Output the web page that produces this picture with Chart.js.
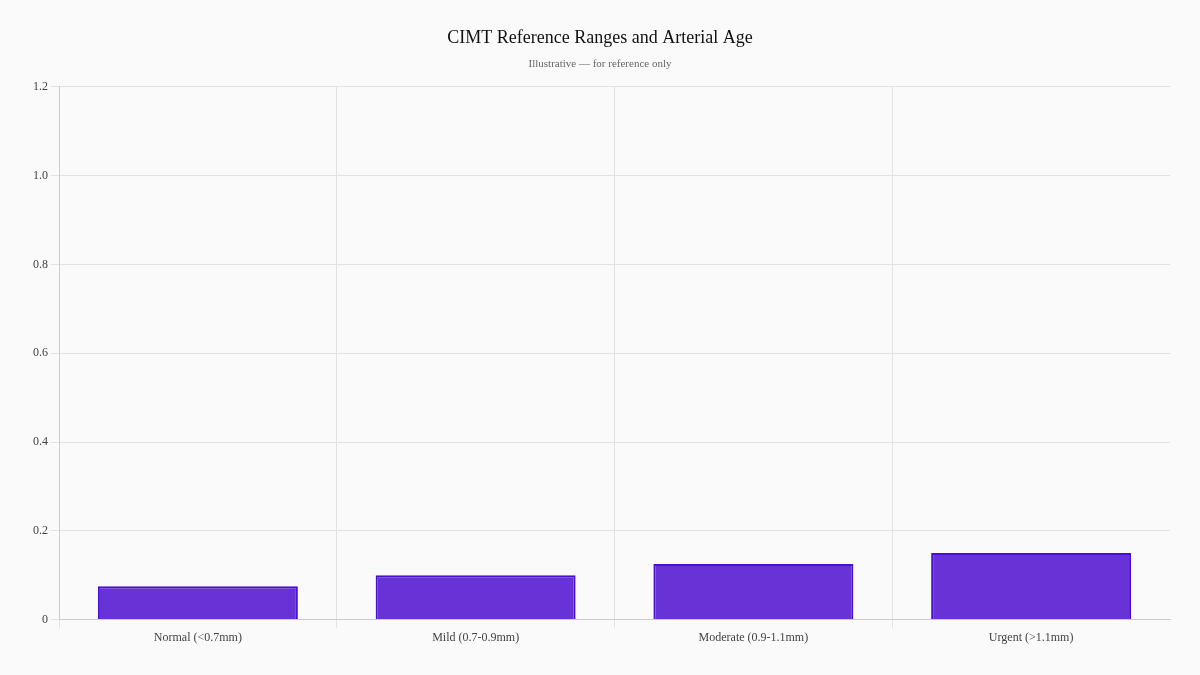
<!DOCTYPE html>
<html>
<head>
<meta charset="utf-8">
<script src="https://cdn.jsdelivr.net/npm/chart.js@4/dist/chart.umd.min.js"></script>
<style>
  html, body { margin: 0; padding: 0; background: #fafafa; }
  #wrap { width: 1200px; height: 675px; }
</style>
</head>
<body>
<div id="wrap"><canvas id="cimtChart"></canvas></div>
<script>
const categories = [
    'Normal (<0.7mm)',
    'Mild (0.7-0.9mm)',
    'Moderate (0.9-1.1mm)',
    'Urgent (>1.1mm)'
];
const cimtValues = [0.075, 0.1, 0.125, 0.15];

Chart.defaults.font.family = '"Liberation Serif", "DejaVu Serif", serif';
Chart.defaults.color = '#444';

var ctx = document.getElementById('cimtChart').getContext('2d');
var cimtChart = new Chart(ctx, {
    type: 'bar',
    data: {
        labels: categories,
        datasets: [{
            label: 'CIMT',
            backgroundColor: '#6833d6',
            borderColor: '#4a10d0',
            borderWidth: 2,
            data: cimtValues
        }]
    },
    options: {
        responsive: true,
        maintainAspectRatio: false,
        animation: false,
        layout: { padding: { left: 30, right: 30, top: 18, bottom: 27 } },
        plugins: {
            legend: { display: false },
            tooltip: { enabled: false },
            title: {
                display: true,
                text: 'CIMT Reference Ranges and Arterial Age',
                color: '#111',
                font: { size: 18, weight: 'normal' },
                padding: { top: 9, bottom: 9 }
            },
            subtitle: {
                display: true,
                text: 'Illustrative \u2014 for reference only',
                color: '#666',
                font: { size: 11 },
                padding: { bottom: 16 }
            }
        },
        scales: {
            x: {
                grid: {
                    // the closing line at the right edge has no tick context, hide it
                    color: c => c.tick === undefined ? 'rgba(0,0,0,0)' : '#e2e2e2'
                },
                border: { color: '#cccccc' },
                ticks: { font: { size: 12 }, color: '#444' }
            },
            y: {
                min: 0,
                max: 1.2,
                grid: { color: '#e2e2e2' },
                border: { color: '#cccccc' },
                ticks: { stepSize: 0.2, font: { size: 12 }, color: '#444' }
            }
        }
    }
});
</script>
</body>
</html>
